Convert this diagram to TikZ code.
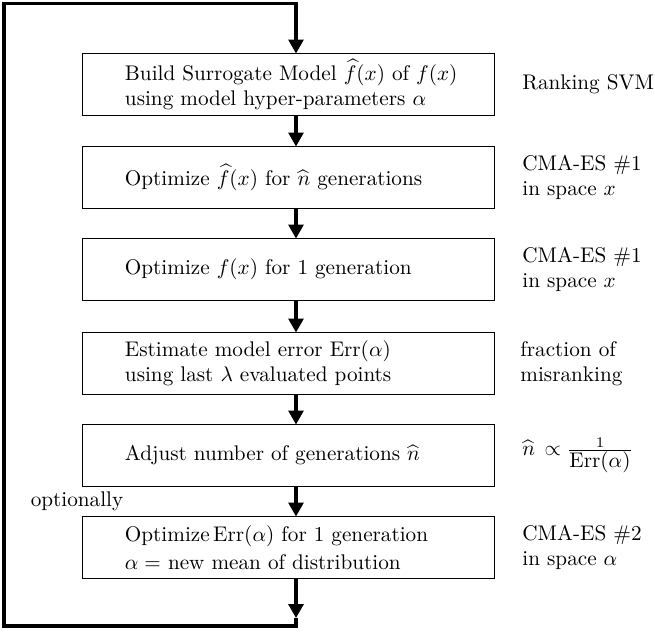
\documentclass[tikz,border=0pt]{standalone}
\usepackage{amsmath}
\usetikzlibrary{arrows.meta}
\begin{document}
\begin{tikzpicture}[x=0.472pt,y=-0.472pt,
  stepbox/.style={draw, line width=0.47pt, minimum width=194.9pt, minimum height=28.8pt, inner sep=0pt},
  steptext/.style={anchor=west, align=left, inner sep=0pt},
  side/.style={anchor=west, align=left, inner sep=0pt},
  flow/.style={line width=1.42pt, line join=miter, -{Triangle[length=6.6pt,width=7.1pt]}}]
\useasboundingbox (0,0) rectangle (655,632);
\node[stepbox] (b1) at (288.5,84.5) {};
\node[stepbox] (b2) at (288.5,177.5) {};
\node[stepbox] (b3) at (288.5,269.5) {};
\node[stepbox] (b4) at (288.5,363.5) {};
\node[stepbox] (b5) at (288.5,455.5) {};
\node[stepbox] (b6) at (288.5,547.5) {};
\node[steptext] (t1) at ([xshift=20.3pt]b1.west) {Build Surrogate Model $\widehat{f}(x)$ of $f(x)$\\ using model hyper-parameters $\alpha$};
\node[steptext] (t2) at ([xshift=20.3pt]b2.west) {Optimize $\widehat{f}(x)$ for $\widehat{n}$ generations};
\node[steptext] (t3) at ([xshift=20.3pt]b3.west) {Optimize $f(x)$ for 1 generation};
\node[steptext] (t4) at ([xshift=20.3pt]b4.west) {Estimate model error $\mathrm{Err}(\alpha)$\\ using last $\lambda$ evaluated points};
\node[steptext] (t5) at ([xshift=20.3pt]b5.west) {Adjust number of generations $\widehat{n}$};
\node[steptext] (t6) at ([xshift=20.3pt]b6.west) {Optimize\,$\mathrm{Err}(\alpha)$ for 1 generation\\[1pt] $\alpha=$ new mean of\ distribution};
\node[side] (l1) at (522,84.5) {Ranking SVM};
\node[side] (l2) at (522,177.5) {CMA-ES \#1\\ in space $x$};
\node[side] (l3) at (522,269.5) {CMA-ES \#1\\ in space $x$};
\node[side] (l4) at (520,363.5) {fraction of\\ misranking};
\node[side] (l5) at (522,455.5) {$\widehat{n}\,\propto\frac{1}{\displaystyle\mathrm{Err}(\alpha)}$};
\node[side] (l6) at (522,547.5) {CMA-ES \#2\\ in space $\alpha$};
\node[inner sep=0pt] (opt) at (77,501) {optionally};
\coordinate (ax) at (296,0);
\coordinate (tip) at (296,618);
\coordinate (bc) at (296,626);
\coordinate (bl) at (4,626);
\coordinate (tl) at (4,3.5);
\coordinate (tr) at (296,3.5);
\draw[flow] (b1.south -| ax) -- (b2.north -| ax);
\draw[flow] (b2.south -| ax) -- (b3.north -| ax);
\draw[flow] (b3.south -| ax) -- (b4.north -| ax);
\draw[flow] (b4.south -| ax) -- (b5.north -| ax);
\draw[flow] (b5.south -| ax) -- (b6.north -| ax);
\draw[flow] (b6.south -| ax) -- (tip);
\draw[flow] (tip) -- (bc) -- (bl) -- (tl) -- (tr) -- (b1.north -| ax);
\end{tikzpicture}
\end{document}
